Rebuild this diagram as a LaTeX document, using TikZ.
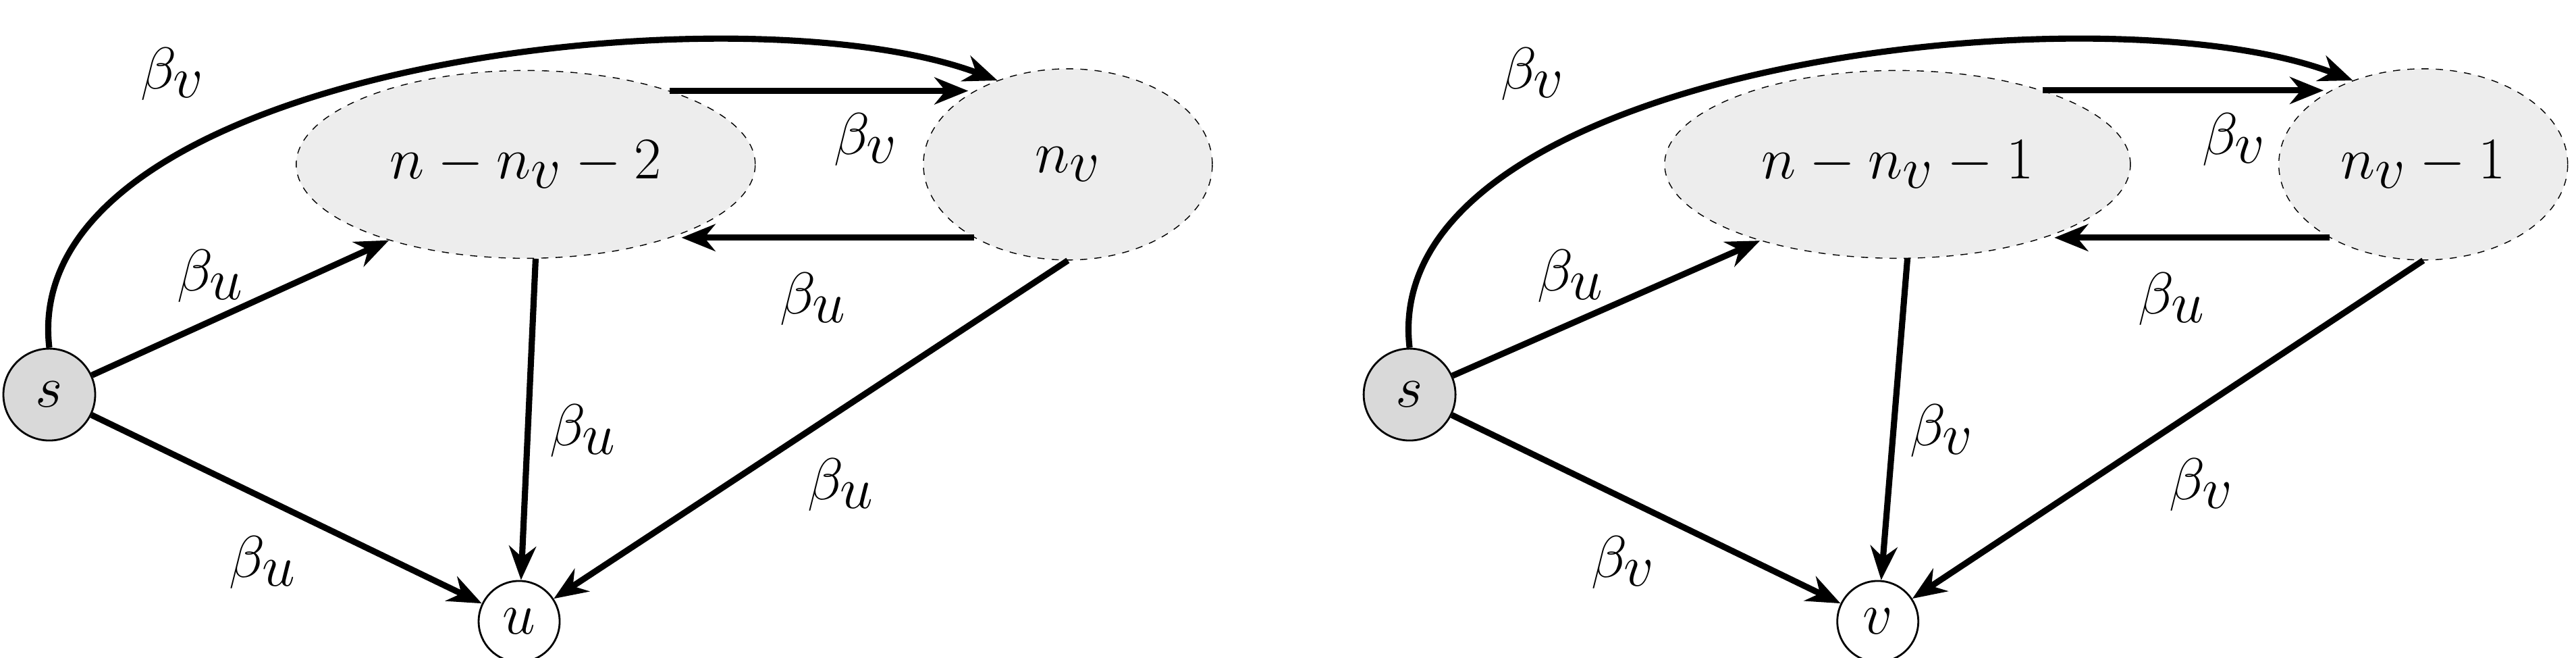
\documentclass[tikz,border=0pt]{standalone}
\usepackage{amsmath}
\usetikzlibrary{positioning}
\usetikzlibrary{shapes.geometric,arrows.meta}

\tikzset{
	grp/.style={ellipse, draw, dashed, fill=black!7, inner sep=0pt},
	src/.style={circle, draw, thick, fill=black!15, minimum size=1.36cm, inner sep=0pt},
	snk/.style={circle, draw, thick, fill=white, minimum size=1.2cm, inner sep=0pt},
	edge/.style={line width=2.6pt, -{Stealth[length=5mm,width=4mm]}},
	lab/.style={font=\fontsize{36}{42}\selectfont},
}

\begin{document}
\begin{tikzpicture}[x=0.02434cm, y=-0.02434cm]
	\useasboundingbox (0,0) rectangle (1568,400);
	
	% left diagram
	\node[src, lab] (S1) at (30,240) {$s$};
	\node[grp, minimum width=6.8cm, minimum height=2.78cm, lab] (A1) at (320,100) {$n-n_v-2$};
	\node[grp, minimum width=4.28cm, minimum height=2.83cm, lab] (B1) at (650,100) {$n_v$};
	\node[snk, lab] (U) at (316,378) {$u$};
	
	\draw[edge] (S1.north) .. controls (10,40) and (450,-10) .. (B1.130);
	\draw[edge] (S1) -- (A1.209);
	\draw[edge] (S1) -- (U);
	\draw[edge] (A1.27) -- (A1.27 -| B1.145);
	\draw[edge] (B1.218) -- (B1.218 -| A1.-24);
	\draw[edge] (A1.-84) -- (U);
	\draw[edge] (B1.-90) -- (U);
	
	\node[lab] (l1) at (105,45) {$\beta_v$};
	\node[lab] (l2) at (128,168) {$\beta_u$};
	\node[lab] (l3) at (160,342) {$\beta_u$};
	\node[lab] (l4) at (527,85) {$\beta_v$};
	\node[lab] (l5) at (495,182) {$\beta_u$};
	\node[lab] (l6) at (355,262) {$\beta_u$};
	\node[lab] (l7) at (512,295) {$\beta_u$};
	
	% right diagram
	\node[src, lab] (S2) at (858,240) {$s$};
	\node[grp, minimum width=6.9cm, minimum height=2.78cm, lab] (A2) at (1155,100) {$n-n_v-1$};
	\node[grp, minimum width=4.28cm, minimum height=2.83cm, lab] (B2) at (1475,100) {$n_v-1$};
	\node[snk, lab] (V) at (1143,378) {$v$};
	
	\draw[edge] (S2.north) .. controls (838,40) and (1278,-10) .. (B2.130);
	\draw[edge] (S2) -- (A2.209);
	\draw[edge] (S2) -- (V);
	\draw[edge] (A2.27) -- (A2.27 -| B2.145);
	\draw[edge] (B2.218) -- (B2.218 -| A2.-24);
	\draw[edge] (A2.-84) -- (V);
	\draw[edge] (B2.-90) -- (V);
	
	\node[lab] (r1) at (933,45) {$\beta_v$};
	\node[lab] (r2) at (956,168) {$\beta_u$};
	\node[lab] (r3) at (988,342) {$\beta_v$};
	\node[lab] (r4) at (1360,85) {$\beta_v$};
	\node[lab] (r5) at (1322,182) {$\beta_u$};
	\node[lab] (r6) at (1182,262) {$\beta_v$};
	\node[lab] (r7) at (1340,295) {$\beta_v$};
\end{tikzpicture}
\end{document}
